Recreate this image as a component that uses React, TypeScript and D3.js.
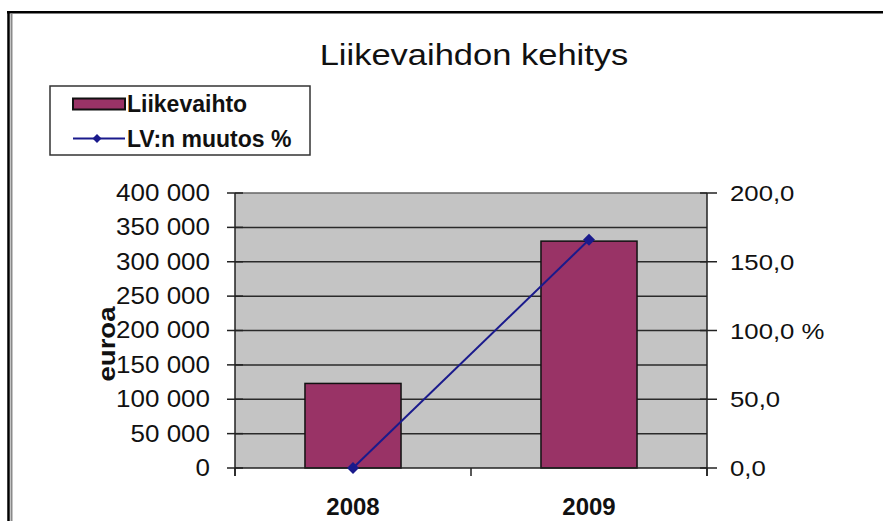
import React from "react";
import * as d3 from "d3";

const categories = ["2008", "2009"];
const revenue = [123000, 330000];
const changePct = [0, 166];
const leftTicks = [0, 50000, 100000, 150000, 200000, 250000, 300000, 350000, 400000];
const rightTicks = [0, 50, 100, 150, 200];
const rightTickLabels = ["0,0", "50,0", "100,0 %", "150,0", "200,0"];
const gridValues = [25, 50, 75, 100, 125, 150, 175, 200];
const title = "Liikevaihdon kehitys";
const yAxisTitle = "euroa";
const legendLabels = ["Liikevaihto", "LV:n muutos %"];

const W = 883;
const H = 521;
const FONT = "'Liberation Sans', Arial, sans-serif";
const BAR = "#993366";
const LINE = "#1a1a8c";

const locale = d3.formatLocale({ thousands: " ", grouping: [3], decimal: ",", currency: ["", "€"] });
const fmtLeft = locale.format(",d");

function Diamond({ x, y, r }: { x: number; y: number; r: number }) {
  return <path d={`M${x},${y - r}L${x + r},${y}L${x},${y + r}L${x - r},${y}Z`} fill={LINE} />;
}

export default function App() {
  const left = 235, right = 707, top = 193, bottom = 468;
  const x = d3.scaleBand<string>().domain(categories).range([left, right]).paddingInner(0.593).paddingOuter(0.2965);
  const yL = d3.scaleLinear().domain([0, 400000]).range([bottom, top]);
  const yR = d3.scaleLinear().domain([0, 200]).range([bottom, top]);
  const cx = (c: string) => (x(c) as number) + x.bandwidth() / 2;
  const line = d3.line<number>().x((_, i) => cx(categories[i])).y((d) => yR(d));
  const step = x.step();

  return (
    <svg width={W} height={H} style={{ position: "absolute", left: 0, top: 0, display: "block" }} fontFamily={FONT}>
      <rect x={0} y={0} width={W} height={H} fill="#fff" />
      {/* outer frame */}
      <line x1={8.5} y1={11} x2={8.5} y2={H} stroke="#000" strokeWidth={2.5} />
      <line x1={7} y1={12.2} x2={W} y2={12.2} stroke="#000" strokeWidth={2.5} />
      <line x1={11.5} y1={14} x2={11.5} y2={H} stroke="#8a8a8a" strokeWidth={2} />

      {/* title */}
      <text transform={`translate(474,65) scale(1.15,1)`} textAnchor="middle" fontSize={30} fill="#111">
        {title}
      </text>

      {/* legend */}
      <rect x={50} y={86} width={260} height={69} fill="#fff" stroke="#333" strokeWidth={1.5} />
      <rect x={73} y={98.5} width={52} height={11} fill={BAR} stroke="#111" strokeWidth={2} />
      <text x={127} y={111.7} fontSize={23} fontWeight="bold" fill="#111">{legendLabels[0]}</text>
      <line x1={73} y1={138.5} x2={125} y2={138.5} stroke={LINE} strokeWidth={2} />
      <Diamond x={97} y={138.5} r={4.5} />
      <text x={127} y={146.7} fontSize={23} fontWeight="bold" fill="#111">{legendLabels[1]}</text>

      {/* plot area */}
      <rect x={left} y={top} width={right - left} height={bottom - top} fill="#c4c4c4" />
      {gridValues.map((v) => (
        <line key={v} x1={left} x2={right} y1={yR(v)} y2={yR(v)} stroke={v === 200 ? "#666" : "#2a2a2a"} strokeWidth={1.5} />
      ))}

      {/* bars */}
      {categories.map((c, i) => (
        <rect key={c} x={x(c)} y={yL(revenue[i])} width={x.bandwidth()} height={bottom - yL(revenue[i])}
          fill={BAR} stroke="#111" strokeWidth={1.5} />
      ))}

      {/* axes */}
      <line x1={left} x2={left} y1={top} y2={bottom + 8} stroke="#222" strokeWidth={1.5} />
      <line x1={right} x2={right} y1={top} y2={bottom + 8} stroke="#222" strokeWidth={1.5} />
      <line x1={left} x2={right} y1={bottom} y2={bottom} stroke="#222" strokeWidth={1.5} />
      {leftTicks.map((v) => (
        <line key={v} x1={left - 8} x2={left + 8} y1={yL(v)} y2={yL(v)} stroke="#222" strokeWidth={1.5} />
      ))}
      {rightTicks.map((v) => (
        <line key={v} x1={right - 7} x2={right + 10} y1={yR(v)} y2={yR(v)} stroke="#222" strokeWidth={1.5} />
      ))}
      {[0, 1, 2].map((k) => (
        <line key={k} x1={left + k * step} x2={left + k * step} y1={bottom} y2={bottom + 8} stroke="#222" strokeWidth={1.5} />
      ))}

      {/* line series */}
      <path d={line(changePct) || ""} fill="none" stroke={LINE} strokeWidth={2} />
      {changePct.map((v, i) => (
        <Diamond key={i} x={cx(categories[i])} y={yR(v)} r={6} />
      ))}

      {/* left tick labels */}
      {leftTicks.map((v) => (
        <text key={v} transform={`translate(210,${yL(v)}) scale(1.13,1)`} textAnchor="end" dominantBaseline="central"
          fontSize={23} fill="#111">
          {fmtLeft(v)}
        </text>
      ))}
      {/* right tick labels */}
      {rightTicks.map((v, i) => (
        <text key={v} transform={`translate(730,${yR(v)}) scale(1.12,1)`} textAnchor="start" dominantBaseline="central"
          fontSize={23} fill="#111">
          {rightTickLabels[i]}
        </text>
      ))}

      {/* y axis title */}
      <text transform="translate(115,344) rotate(-90)" textAnchor="middle" fontSize={24} fontWeight="bold" fill="#111"
        textLength={75} lengthAdjust="spacingAndGlyphs">
        {yAxisTitle}
      </text>

      {/* category labels */}
      {categories.map((c) => (
        <text key={c} x={cx(c)} y={515} textAnchor="middle" fontSize={24} fontWeight="bold" fill="#111">
          {c}
        </text>
      ))}
    </svg>
  );
}
